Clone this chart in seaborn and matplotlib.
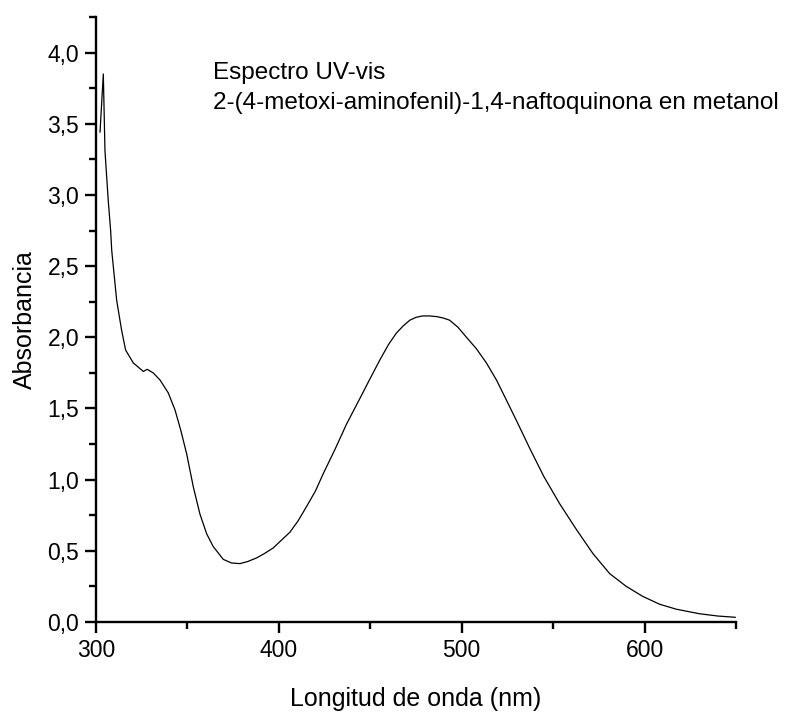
import matplotlib
matplotlib.use("Agg")
import matplotlib.pyplot as plt
import matplotlib.ticker as mticker
import seaborn as sns
import pandas as pd

wavelength = [302.2, 304.0, 304.9, 306.7, 308.0, 308.6, 311.3, 314.0, 316.2, 320.4,
              325.9, 328.0, 331.3, 335.0, 339.5, 343.2, 346.3, 349.6, 353.2, 356.8,
              360.5, 364.1, 369.6, 374.0, 378.7, 383.0, 387.8, 392.0, 396.9, 401.0,
              406.0, 410.5, 415.1, 420.0, 424.2, 430.6, 437.0, 444.3, 449.5, 455.2,
              460.0, 464.3, 468.0, 471.6, 475.0, 478.5, 482.5, 486.5, 490.0, 493.4,
              498.0, 502.6, 508.0, 513.5, 519.0, 524.4, 530.5, 537.2, 545.0, 553.6,
              562.7, 571.8, 580.9, 590.0, 599.0, 608.2, 617.3, 630.0, 640.0, 649.7]
absorbance = [3.44, 3.85, 3.31, 2.96, 2.75, 2.61, 2.26, 2.05, 1.91, 1.82,
              1.76, 1.775, 1.75, 1.70, 1.61, 1.49, 1.35, 1.18, 0.95, 0.76,
              0.62, 0.53, 0.44, 0.415, 0.41, 0.425, 0.45, 0.48, 0.52, 0.57,
              0.63, 0.71, 0.81, 0.92, 1.04, 1.21, 1.39, 1.57, 1.70, 1.84,
              1.95, 2.03, 2.08, 2.12, 2.14, 2.15, 2.15, 2.145, 2.135, 2.12,
              2.07, 2.00, 1.92, 1.82, 1.70, 1.56, 1.40, 1.22, 1.02, 0.83,
              0.65, 0.48, 0.34, 0.25, 0.18, 0.125, 0.09, 0.058, 0.042, 0.033]

title_lines = ["Espectro UV-vis", "2-(4-metoxi-aminofenil)-1,4-naftoquinona en metanol"]
xlabel = "Longitud de onda (nm)"
ylabel = "Absorbancia"

sns.set_style("ticks")
plt.rcParams['font.family'] = ['Liberation Sans', 'DejaVu Sans']
plt.rcParams['text.color'] = 'black'
plt.rcParams['axes.labelcolor'] = 'black'

df = pd.DataFrame({"wl": wavelength, "abs": absorbance})

fig = plt.figure(figsize=(7.93, 7.16), dpi=100)
ax = fig.add_axes([96/793, 1 - 622/716, (736 - 96)/793, 605/716])
sns.lineplot(data=df, x="wl", y="abs", ax=ax, color="black", linewidth=0.9)

ax.set_xlim(300, 650)
ax.set_ylim(0, 4.25)
ax.xaxis.set_major_locator(mticker.MultipleLocator(100))
ax.xaxis.set_minor_locator(mticker.MultipleLocator(50))
ax.yaxis.set_major_locator(mticker.MultipleLocator(0.5))
ax.yaxis.set_minor_locator(mticker.MultipleLocator(0.25))
ax.yaxis.set_major_formatter(mticker.FuncFormatter(lambda v, p: f"{v:.1f}".replace(".", ",")))

for s in ["top", "right"]:
    ax.spines[s].set_visible(False)
for s in ["left", "bottom"]:
    ax.spines[s].set_linewidth(1.7)
    ax.spines[s].set_color("black")

ax.tick_params(which="major", direction="out", length=8, width=1.7, labelsize=16.5,
               colors="black", labelcolor="black", pad=4)
ax.tick_params(which="minor", direction="out", length=5, width=1.7, colors="black")

ax.set_xlabel(xlabel, fontsize=18, labelpad=18, color="black")
ax.set_ylabel(ylabel, fontsize=18, labelpad=8, color="black")

ax.text(364, 3.855, title_lines[0], fontsize=17.5, va="center", ha="left", color="black")
ax.text(364, 3.645, title_lines[1], fontsize=17.5, va="center", ha="left", color="black")

fig.savefig("out.png", dpi=100)
